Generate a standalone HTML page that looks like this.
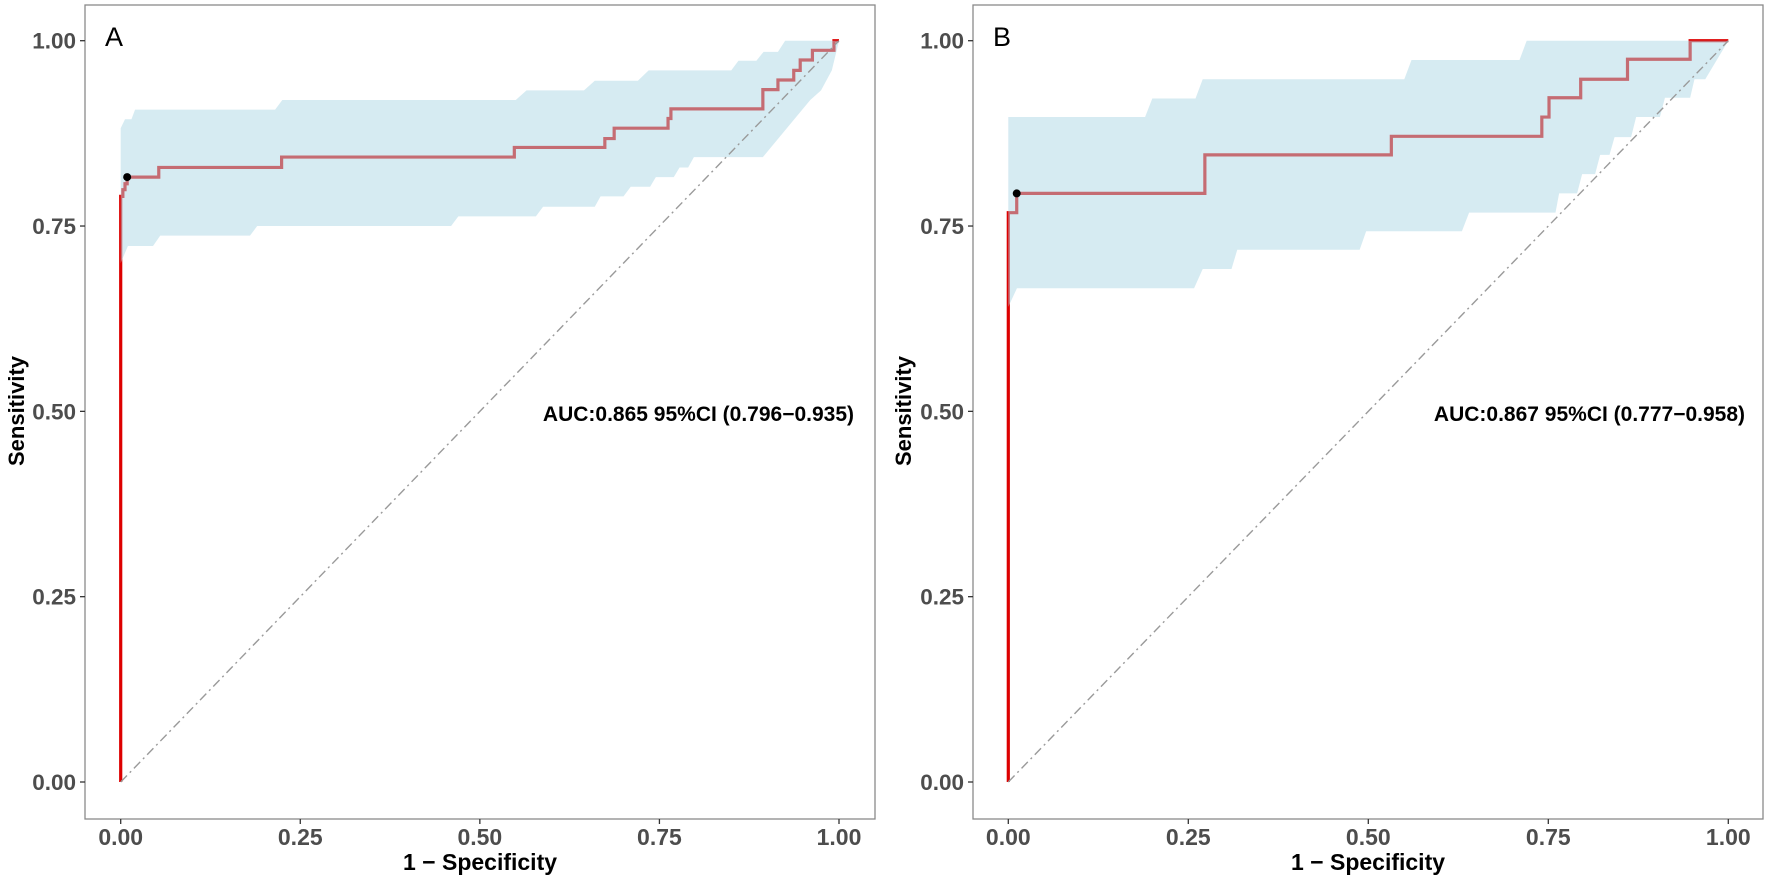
<!DOCTYPE html>
<html><head><meta charset="utf-8"><style>
html,body{margin:0;padding:0;background:#fff;}
svg text{font-family:"Liberation Sans",Arial,sans-serif;}
</style></head><body>
<svg id="chart" width="1772" height="883" viewBox="0 0 1772 883" xmlns="http://www.w3.org/2000/svg"></svg>
<script>
const ticks=[0,0.25,0.5,0.75,1];
const tickLabels=["0.00","0.25","0.50","0.75","1.00"];
// Panel A
const rocA=[[0,0],[0,0.79],[0.003,0.799],[0.006,0.807],[0.009,0.816],[0.053,0.829],[0.224,0.843],[0.548,0.856],[0.674,0.868],[0.687,0.882],[0.762,0.895],[0.766,0.908],[0.894,0.934],[0.915,0.947],[0.937,0.960],[0.946,0.974],[0.963,0.987],[0.993,1.0],[1,1]];
const upperA=[[0,0.882],[0.006,0.894],[0.015,0.894],[0.02,0.907],[0.215,0.907],[0.225,0.920],[0.55,0.920],[0.565,0.933],[0.645,0.933],[0.66,0.946],[0.72,0.946],[0.735,0.960],[0.85,0.960],[0.86,0.973],[0.885,0.973],[0.895,0.985],[0.915,0.985],[0.925,1.0],[1,1]];
const lowerA=[[0,0.70],[0.01,0.723],[0.045,0.723],[0.055,0.737],[0.18,0.737],[0.19,0.750],[0.46,0.750],[0.47,0.763],[0.578,0.763],[0.588,0.776],[0.66,0.776],[0.668,0.790],[0.70,0.790],[0.71,0.803],[0.737,0.803],[0.745,0.816],[0.77,0.816],[0.778,0.829],[0.79,0.829],[0.798,0.843],[0.894,0.843],[0.96,0.92],[0.975,0.933],[0.99,0.96],[1,1]];
const bestA=[0.009,0.816];
const aucA="AUC:0.865 95%CI (0.796\u22120.935)";
// Panel B
const rocB=[[0,0],[0,0.768],[0.0117,0.794],[0.273,0.846],[0.532,0.871],[0.741,0.897],[0.751,0.923],[0.795,0.948],[0.860,0.975],[0.947,1.0],[1,1]];
const upperB=[[0,0.897],[0.19,0.897],[0.2,0.922],[0.26,0.922],[0.27,0.948],[0.55,0.948],[0.56,0.974],[0.71,0.974],[0.72,1.0],[1,1]];
const lowerB=[[0,0.641],[0.012,0.666],[0.258,0.666],[0.27,0.692],[0.31,0.692],[0.318,0.718],[0.488,0.718],[0.497,0.743],[0.63,0.743],[0.64,0.768],[0.76,0.768],[0.765,0.794],[0.79,0.794],[0.797,0.820],[0.815,0.820],[0.822,0.846],[0.835,0.846],[0.842,0.870],[0.865,0.870],[0.872,0.897],[0.905,0.897],[0.912,0.923],[0.947,0.923],[0.953,0.948],[0.968,0.948],[1,1]];
const bestB=[0.0117,0.794];
const aucB="AUC:0.867 95%CI (0.777\u22120.958)";

const NS="http://www.w3.org/2000/svg";
const svg=document.getElementById('chart');
function mk(tag,attrs,parent){const e=document.createElementNS(NS,tag);for(const k in attrs)e.setAttribute(k,attrs[k]);(parent||svg).appendChild(e);return e;}

function panel(cfg){
  const g=mk('g',{});
  
  
  const sx=v=>cfg.x0+v*(cfg.x1-cfg.x0);
  const sy=v=>782-v*741.3;
  const frame=mk('rect',{x:cfg.bl,y:5,width:cfg.br-cfg.bl,height:814,fill:'#fff',stroke:'#8a8a8a','stroke-width':1.3},g);
  
  
  ticks.forEach((t,i)=>{
    const yt=mk('text',{x:cfg.bl-9,y:sy(t)+8,'text-anchor':'end','font-size':22.5,'font-weight':'bold',fill:'#4d4d4d'},g);
    yt.textContent=tickLabels[i];
    
    
    mk('line',{x1:cfg.bl-5,x2:cfg.bl,y1:sy(t),y2:sy(t),stroke:'#333','stroke-width':1.3},g);
    const xt=mk('text',{x:sx(t),y:845,'text-anchor':'middle','font-size':23,'font-weight':'bold',fill:'#4d4d4d'},g);
    xt.textContent=tickLabels[i];
    
    
    mk('line',{x1:sx(t),x2:sx(t),y1:819,y2:824,stroke:'#333','stroke-width':1.3},g);
  });
  let d='M'+sx(cfg.roc[0][0])+','+sy(cfg.roc[0][1]);
  for(let i=1;i<cfg.roc.length;i++){d+=' L'+sx(cfg.roc[i][0])+','+sy(cfg.roc[i-1][1])+' L'+sx(cfg.roc[i][0])+','+sy(cfg.roc[i][1]);}
  const line=mk('path',{d:d,fill:'none',stroke:'#dd0000','stroke-width':3.2},g);
  
  
  const pts=cfg.up.map(p=>sx(p[0])+','+sy(p[1])).concat(cfg.lo.slice().reverse().map(p=>sx(p[0])+','+sy(p[1])));
  const band=mk('polygon',{points:pts.join(' '),fill:'rgb(173,216,230)','fill-opacity':0.5},g);
  
  
  const diag=mk('line',{x1:sx(0),y1:sy(0),x2:sx(1),y2:sy(1),stroke:'#9a9a9a','stroke-width':1.4,'stroke-dasharray':'9 4 2 4'},g);
  
  
  const dot=mk('circle',{cx:sx(cfg.best[0]),cy:sy(cfg.best[1]),r:4,fill:'#000'},g);
  
  
  const lab=mk('text',{x:cfg.bl+20,y:46,'font-size':27,fill:'#000'},g);
  lab.textContent=cfg.id;
  
  
  const auc=mk('text',{x:cfg.aucX,y:421,'text-anchor':'end','font-size':21,'font-weight':'bold',fill:'#000'},g);
  auc.textContent=cfg.auc;
  
  
  const xtitle=mk('text',{x:(cfg.bl+cfg.br)/2,y:870,'text-anchor':'middle','font-size':23,'font-weight':'bold',fill:'#000'},g);
  xtitle.textContent='1 \u2212 Specificity';
  
  
  const ytitle=mk('text',{x:0,y:0,'text-anchor':'middle','font-size':22,'font-weight':'bold',fill:'#000',transform:'translate('+cfg.ytX+',411) rotate(-90)'},g);
  ytitle.textContent='Sensitivity';
  
  
}
panel({id:'A',bl:85,br:875,x0:120.7,x1:839,roc:rocA,up:upperA,lo:lowerA,best:bestA,auc:aucA,aucX:854,ytX:24});
panel({id:'B',bl:973,br:1763,x0:1008.3,x1:1728.3,roc:rocB,up:upperB,lo:lowerB,best:bestB,auc:aucB,aucX:1745,ytX:911});
</script>
</body></html>
